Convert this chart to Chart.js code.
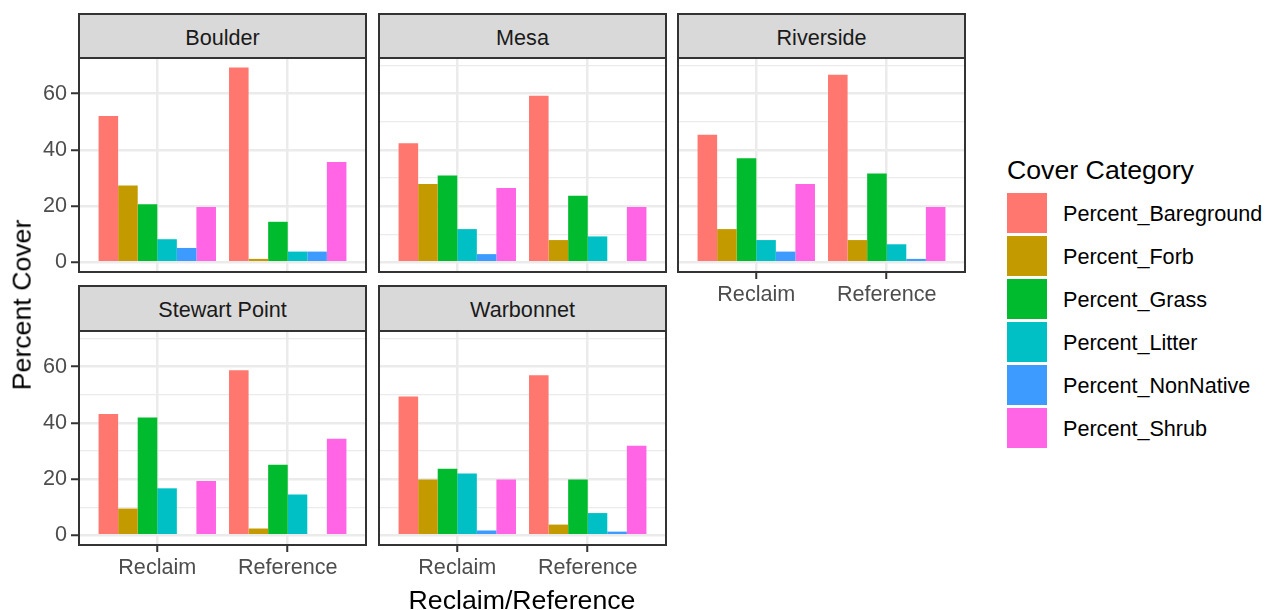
<!DOCTYPE html>
<html>
<head>
<meta charset="utf-8">
<script src="https://cdn.jsdelivr.net/npm/chart.js@4"></script>
<style>
  body { margin: 0; background: #fff; }
  #wrap { position: relative; width: 1269px; height: 610px; overflow: hidden; font-family: 'Liberation Sans', Arial, sans-serif; }
  #wrap canvas, .strip, .txt, .key { position: absolute; }
  .strip { background: #D9D9D9; border: 2px solid #333; box-sizing: border-box; color: #1A1A1A; font-size: 21.6px;
           display: flex; align-items: center; justify-content: center; padding-top: 3px; }
  .txt { white-space: nowrap; color: #000; }
</style>
</head>
<body>
<div id="wrap"></div>
<script>
// facets, x groups and fill categories
const sites = ['Boulder', 'Mesa', 'Riverside', 'Stewart Point', 'Warbonnet'];
const groups = ['Reclaim', 'Reference'];
const categories = ['Percent_Bareground', 'Percent_Forb', 'Percent_Grass', 'Percent_Litter', 'Percent_NonNative', 'Percent_Shrub'];
const colors = ['#FF776E', '#C39B00', '#00BB2D', '#00C0C5', '#3D9BFF', '#FF65E5'];

// values per site, [Reclaim, Reference]
const bareground = [[52.0, 69.3], [42.3, 59.2], [45.4, 66.7], [43.1, 58.7], [49.4, 56.9]];
const forb       = [[27.3, 1.2],  [27.8, 7.9],  [11.8, 7.9],  [9.5, 2.4],   [19.8, 3.8]];
const grass      = [[20.6, 14.4], [30.9, 23.7], [37.0, 31.6], [41.9, 25.1], [23.7, 19.8]];
const litter     = [[8.2, 3.8],   [11.8, 9.2],  [7.9, 6.4],   [16.7, 14.5], [22.0, 7.9]];
const nonNative  = [[5.1, 3.8],   [2.9, 0],     [3.8, 1.2],   [0, 0],       [1.7, 1.3]];
const shrub      = [[19.7, 35.7], [26.4, 19.7], [27.8, 19.7], [19.3, 34.3], [19.8, 31.8]];
const series = [bareground, forb, grass, litter, nonNative, shrub];

const yTicks = [0, 10, 20, 30, 40, 50, 60, 70];

// panel grid (ggplot facet_wrap, 3 columns)
const panelLeft = [79, 379, 678];
const panelTop = [58, 331];
const stripTop = [14, 286];
const panelW = 287, panelH = 214;

const wrap = document.getElementById('wrap');
Chart.defaults.font.family = "'Liberation Sans', Arial, sans-serif";

// draws the dark panel frame round the plot area
const panelBox = {
    id: 'panelBox',
    afterDraw(chart) {
        const a = chart.chartArea;
        const ctx = chart.ctx;
        ctx.save();
        ctx.strokeStyle = '#333333';
        ctx.lineWidth = 2;
        ctx.strokeRect(a.left, a.top, a.right - a.left, a.bottom - a.top);
        ctx.restore();
    }
};

function isMajor(v) {
    return v % 20 === 0;
}

sites.forEach((site, i) => {
    const col = i % 3;
    const row = Math.floor(i / 3);
    const showY = col === 0;
    const showX = row === 1 || i === 2;
    const left = panelLeft[col];
    const top = panelTop[row];

    // strip
    const strip = document.createElement('div');
    strip.className = 'strip';
    strip.textContent = site;
    strip.style.left = (left - 1) + 'px';
    strip.style.top = (stripTop[row] - 1) + 'px';
    strip.style.width = (panelW + 2) + 'px';
    strip.style.height = (top - stripTop[row] + 2) + 'px';
    wrap.appendChild(strip);

    const yW = showY ? 79 : 0;
    const xH = showX ? 46 : 0;
    const padL = showY ? 0 : 2;
    const padB = showX ? 0 : 2;

    const canvas = document.createElement('canvas');
    canvas.width = padL + yW + panelW + 2;
    canvas.height = 2 + panelH + xH + padB;
    canvas.style.left = (left - padL - yW) + 'px';
    canvas.style.top = (top - 2) + 'px';
    wrap.appendChild(canvas);

    new Chart(canvas, {
        type: 'bar',
        data: {
            datasets: categories.map((cat, k) => ({
                label: cat,
                data: groups.map((g, j) => ({ x: j, y: series[k][i][j] })),
                backgroundColor: colors[k],
                borderWidth: 0
            }))
        },
        options: {
            responsive: false,
            animation: false,
            events: [],
            layout: { padding: { left: padL, right: 2, top: 2, bottom: padB } },
            datasets: { bar: { categoryPercentage: 0.9, barPercentage: 1 } },
            plugins: {
                legend: { display: false },
                tooltip: { enabled: false }
            },
            scales: {
                x: {
                    type: 'linear',
                    min: -0.6,
                    max: 1.6,
                    offset: false,
                    bounds: 'data',
                    afterBuildTicks: axis => {
                        axis.ticks = groups.map((g, j) => ({ value: j }));
                    },
                    afterFit: axis => {
                        axis.height = xH;
                        axis.paddingLeft = 0;
                        axis.paddingRight = 0;
                    },
                    ticks: {
                        display: showX,
                        autoSkip: false,
                        maxRotation: 0,
                        padding: 3,
                        color: '#4D4D4D',
                        font: { size: 21.6 },
                        callback: v => groups[v]
                    },
                    grid: {
                        offset: false,
                        color: '#EBEBEB',
                        lineWidth: 2.5,
                        drawTicks: showX,
                        tickLength: 7,
                        tickWidth: 2,
                        tickColor: '#333333'
                    },
                    border: { display: false }
                },
                y: {
                    min: -3.46,
                    max: 72.66,
                    afterBuildTicks: axis => {
                        axis.ticks = yTicks.map(v => ({ value: v }));
                    },
                    afterFit: axis => {
                        axis.width = yW;
                        axis.paddingTop = 0;
                        axis.paddingBottom = 0;
                    },
                    ticks: {
                        display: showY,
                        padding: 4,
                        color: '#4D4D4D',
                        font: { size: 21.6 },
                        callback: v => isMajor(v) ? String(v) : ''
                    },
                    grid: {
                        color: '#EBEBEB',
                        lineWidth: ctx => (ctx.tick && isMajor(ctx.tick.value)) ? 2.5 : 1.2,
                        drawTicks: showY,
                        tickLength: 8,
                        tickWidth: 2,
                        tickColor: ctx => (ctx.tick && isMajor(ctx.tick.value)) ? '#333333' : 'rgba(0,0,0,0)'
                    },
                    border: { display: false }
                }
            }
        },
        plugins: [panelBox]
    });
});

// axis titles
function addText(text, x, y, size, extra) {
    const d = document.createElement('div');
    d.className = 'txt';
    d.textContent = text;
    d.style.fontSize = size + 'px';
    d.style.lineHeight = size + 'px';
    d.style.left = x + 'px';
    d.style.top = y + 'px';
    if (extra) Object.assign(d.style, extra);
    wrap.appendChild(d);
    return d;
}

addText('Reclaim/Reference', 522, 600, 26.7, { transform: 'translate(-50%, -50%)' });
addText('Percent Cover', 22, 305, 26.7, { transform: 'translate(-50%, -50%) rotate(-90deg)' });

// legend
addText('Cover Category', 1007, 170, 26.7, { transform: 'translateY(-50%)' });
categories.forEach((cat, k) => {
    const keyTop = 193 + k * 42.9;
    const key = document.createElement('div');
    key.className = 'key';
    key.style.left = '1007px';
    key.style.top = keyTop + 'px';
    key.style.width = '40px';
    key.style.height = '40px';
    key.style.background = colors[k];
    wrap.appendChild(key);
    addText(cat, 1063, keyTop + 21, 21.6, { transform: 'translateY(-50%)' });
});
</script>
</body>
</html>
